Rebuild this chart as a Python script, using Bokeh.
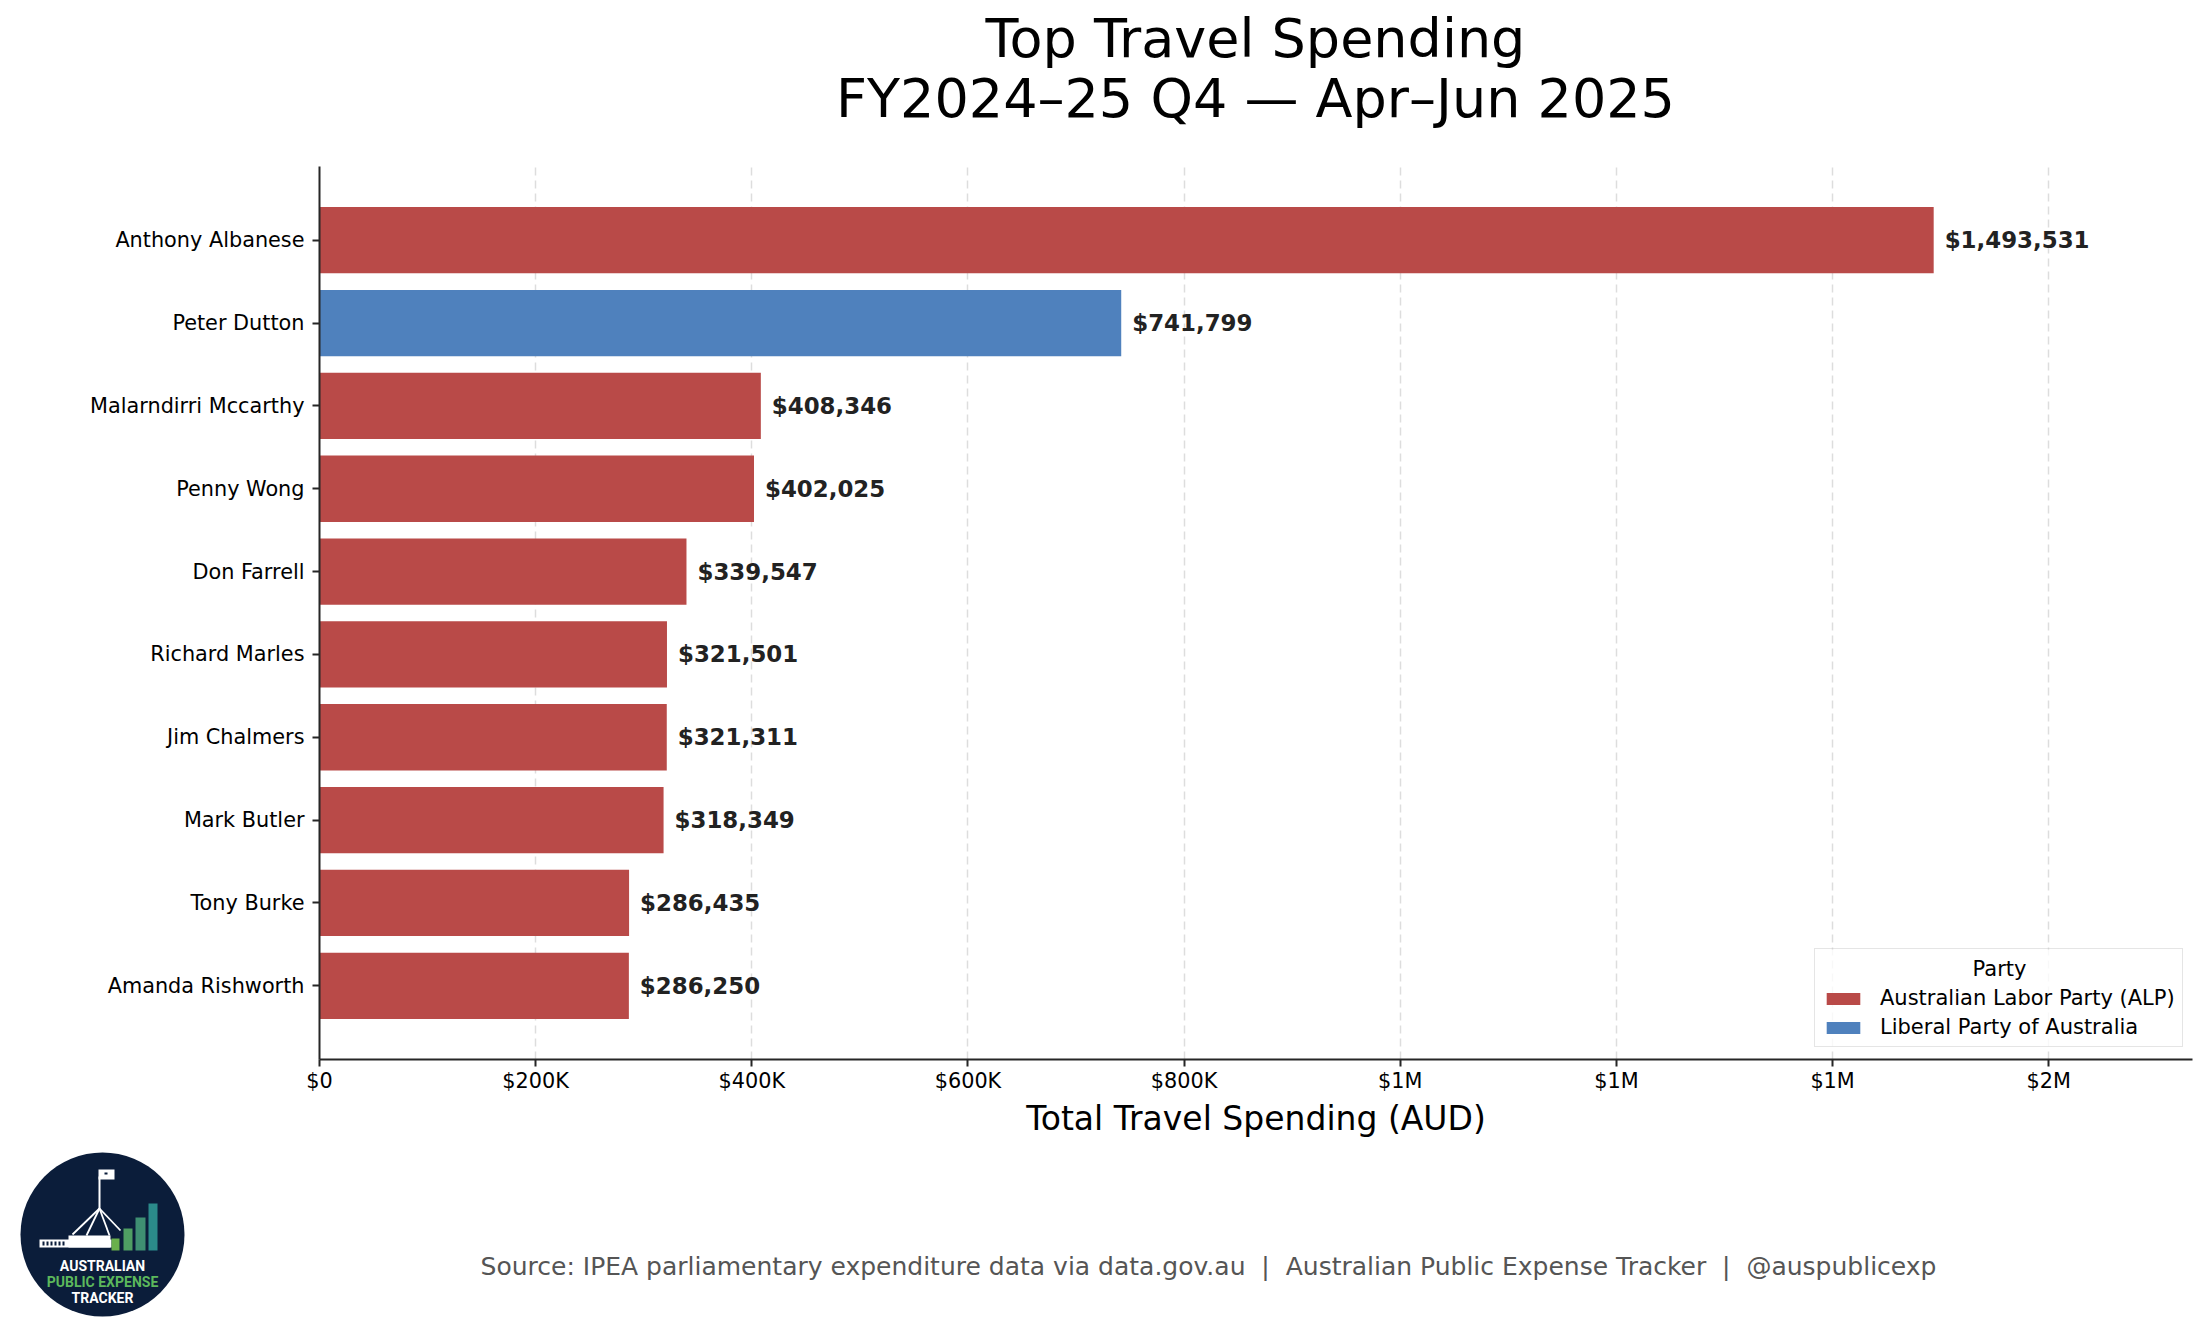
import numpy as np
from bokeh.plotting import figure
from bokeh.layouts import column
from bokeh.models import (FactorRange, Range1d, FixedTicker, ColumnDataSource,
                          Legend, LegendItem, Label, BoxAnnotation)
from bokeh.core.properties import value
from bokeh.embed import file_html
from bokeh.resources import INLINE

# ---------------- data ----------------
names = ["Anthony Albanese", "Peter Dutton", "Malarndirri Mccarthy", "Penny Wong",
         "Don Farrell", "Richard Marles", "Jim Chalmers", "Mark Butler",
         "Tony Burke", "Amanda Rishworth"]
values = [1493531, 741799, 408346, 402025, 339547, 321501, 321311, 318349,
          286435, 286250]
parties = ["ALP", "LIB", "ALP", "ALP", "ALP", "ALP", "ALP", "ALP", "ALP", "ALP"]
party_names = {"ALP": "Australian Labor Party (ALP)", "LIB": "Liberal Party of Australia"}
party_colors = {"ALP": "#b94a48", "LIB": "#4f81bd"}
tick_values = [0, 200000, 400000, 600000, 800000, 1000000, 1200000, 1400000, 1600000]
tick_labels = ["$0", "$200K", "$400K", "$600K", "$800K", "$1M", "$1M", "$1M", "$2M"]
title_lines = ["Top Travel Spending", "FY2024\u201325 Q4 \u2014 Apr\u2013Jun 2025"]
x_title = "Total Travel Spending (AUD)"
legend_title = "Party"
source_text = ("Source: IPEA parliamentary expenditure data via data.gov.au \u00a0|\u00a0 "
               "Australian Public Expense Tracker \u00a0|\u00a0 @auspublicexp")
logo_lines = ["AUSTRALIAN", "PUBLIC EXPENSE", "TRACKER"]
x_max = 1733000

# ---------------- layout constants (px, page coordinates) ----------------
W, H = 2197, 1329
FL, FR, FT, FB = 319, 2192, 166, 1059
TOP_H = 150          # title strip height
MAIN_B = 1143        # bottom of main chart figure
FONT = "DejaVu Sans"


def blank_fig(y0, y1):
    f = figure(width=W, height=y1 - y0, x_range=Range1d(0, W), y_range=Range1d(y1, y0),
               output_backend="svg", toolbar_location=None, min_border=0,
               x_axis_location=None, y_axis_location=None, frame_align=False)
    f.grid.visible = False
    f.outline_line_color = None
    f.background_fill_color = "white"
    f.border_fill_color = "white"
    return f


# ---------------- title strip ----------------
pt = blank_fig(0, TOP_H)
pt.text(x=[1255, 1255], y=[38, 98], text=title_lines, text_align="center",
        text_baseline="middle", text_font=value(FONT), text_font_size="54px",
        text_color="#000000")

# ---------------- main chart ----------------
src = ColumnDataSource(dict(
    name=names,
    value=values,
    color=[party_colors[q] for q in parties],
    label=["${:,.0f}".format(v) for v in values],
))

p = figure(width=W, height=MAIN_B - TOP_H,
           y_range=FactorRange(factors=names[::-1], range_padding=0.078),
           x_range=Range1d(0, x_max),
           output_backend="svg", toolbar_location=None, frame_align=False,
           min_border_left=FL, min_border_right=W - FR,
           min_border_top=FT - TOP_H, min_border_bottom=MAIN_B - FB)
p.outline_line_color = None
p.background_fill_color = "white"
p.border_fill_color = "white"

bars = p.hbar(y="name", left=0, right="value", height=0.8, fill_color="color",
              line_color=None, source=src)

p.text(x="value", y="name", text="label", x_offset=11, text_baseline="middle",
       text_align="left", text_font=value(FONT), text_font_style="bold",
       text_font_size="22.9px", text_color="#222222", source=src)

ticker = FixedTicker(ticks=tick_values)
p.xaxis.ticker = ticker
p.xaxis.major_label_overrides = {v: l for v, l in zip(tick_values, tick_labels)}
for ax in (p.xaxis, p.yaxis):
    ax.axis_line_color = "#262626"
    ax.axis_line_width = 2
    ax.major_tick_line_color = "#262626"
    ax.major_tick_line_width = 2
    ax.major_tick_out = 7
    ax.major_tick_in = 0
    ax.minor_tick_line_color = None
    ax.major_label_text_font = FONT
    ax.major_label_text_font_size = "20.8px"
    ax.major_label_text_color = "#000000"
p.xaxis.major_label_standoff = 2
p.yaxis.major_label_standoff = 8
p.xaxis.axis_label = x_title
p.xaxis.axis_label_text_font = FONT
p.xaxis.axis_label_text_font_size = "33px"
p.xaxis.axis_label_text_font_style = "normal"
p.xaxis.axis_label_text_color = "#000000"
p.xaxis.axis_label_standoff = 3

p.ygrid.grid_line_color = None
p.xgrid.ticker = ticker
p.xgrid.grid_line_color = "#dddddd"
p.xgrid.grid_line_width = 1.5
p.xgrid.grid_line_dash = "8 5"

# legend: translucent white backing box, transparent legend, centred title label
p.add_layout(BoxAnnotation(left=1814 - FL, right=2183 - FL, bottom=12, top=110,
                           left_units="screen", right_units="screen",
                           bottom_units="screen", top_units="screen",
                           fill_color="white", fill_alpha=0.8, line_color=None))
legend = Legend(
    items=[LegendItem(label=party_names["ALP"], renderers=[bars], index=0),
           LegendItem(label=party_names["LIB"], renderers=[bars], index=1)],
    location=(1814 - FL, 12),
    title=" ",
    title_text_font=FONT, title_text_font_size="21px", title_standoff=6,
    label_text_font=FONT, label_text_font_size="21px", label_text_color="#000000",
    glyph_width=42, glyph_height=15, label_standoff=16,
    padding=7, spacing=5, margin=0,
    border_line_color="#cccccc", border_line_width=1.5,
    background_fill_alpha=0.0,
)
p.add_layout(legend)
p.add_layout(Label(x=1999 - FL, y=FB - 968, x_units="screen", y_units="screen",
                   text=legend_title, text_align="center", text_baseline="middle",
                   text_font=FONT, text_font_size="21px", text_color="#000000"))

# ---------------- bottom strip: logo + source ----------------
pb = blank_fig(MAIN_B, H)
pb.text(x=[1208], y=[1266], text=[source_text], text_align="center",
        text_baseline="middle", text_font=value(FONT), text_font_size="25px",
        text_color="#555555")

NAVY = "#0b1d3a"
pb.circle(x=[102], y=[1234], radius=82, fill_color=NAVY, line_color=None)
# parliament building
pb.quad(left=[39, 68], right=[111, 110], top=[1239, 1235], bottom=[1247, 1247],
        fill_color="#ffffff", line_color=None)
wx = np.arange(42, 66, 4)
pb.quad(left=wx, right=wx + 2, top=[1241] * len(wx), bottom=[1245] * len(wx),
        fill_color=NAVY, line_color=None)
# flagpole, flag and legs
pb.quad(left=[98], right=[100], top=[1176], bottom=[1209], fill_color="#ffffff",
        line_color=None)
pb.quad(left=[98], right=[114], top=[1169], bottom=[1179], fill_color="#ffffff",
        line_color=None)
pb.quad(left=[104], right=[107], top=[1172], bottom=[1174], fill_color=NAVY,
        line_color=None)
pb.segment(x0=[99] * 4, y0=[1208] * 4, x1=[72, 86, 109, 120], y1=[1234, 1235, 1235, 1230],
           line_color="#ffffff", line_width=1.8)
# growth bars
pb.quad(left=[111, 123, 135, 148], right=[119, 132, 145, 157],
        top=[1238, 1228, 1217, 1203], bottom=[1250] * 4,
        fill_color=["#6ab04c", "#4f9e63", "#3f8f72", "#2b8a8a"], line_color=None)
pb.text(x=[102] * 3, y=[1265, 1281, 1297], text=logo_lines, text_align="center",
        text_baseline="middle", text_font=value("Roboto"), text_font_style="bold",
        text_font_size="14px", text_color=["#ffffff", "#5cb85c", "#ffffff"])

layout = column(pt, p, pb, spacing=0)
open("out.html", "w").write(file_html(layout, INLINE))
